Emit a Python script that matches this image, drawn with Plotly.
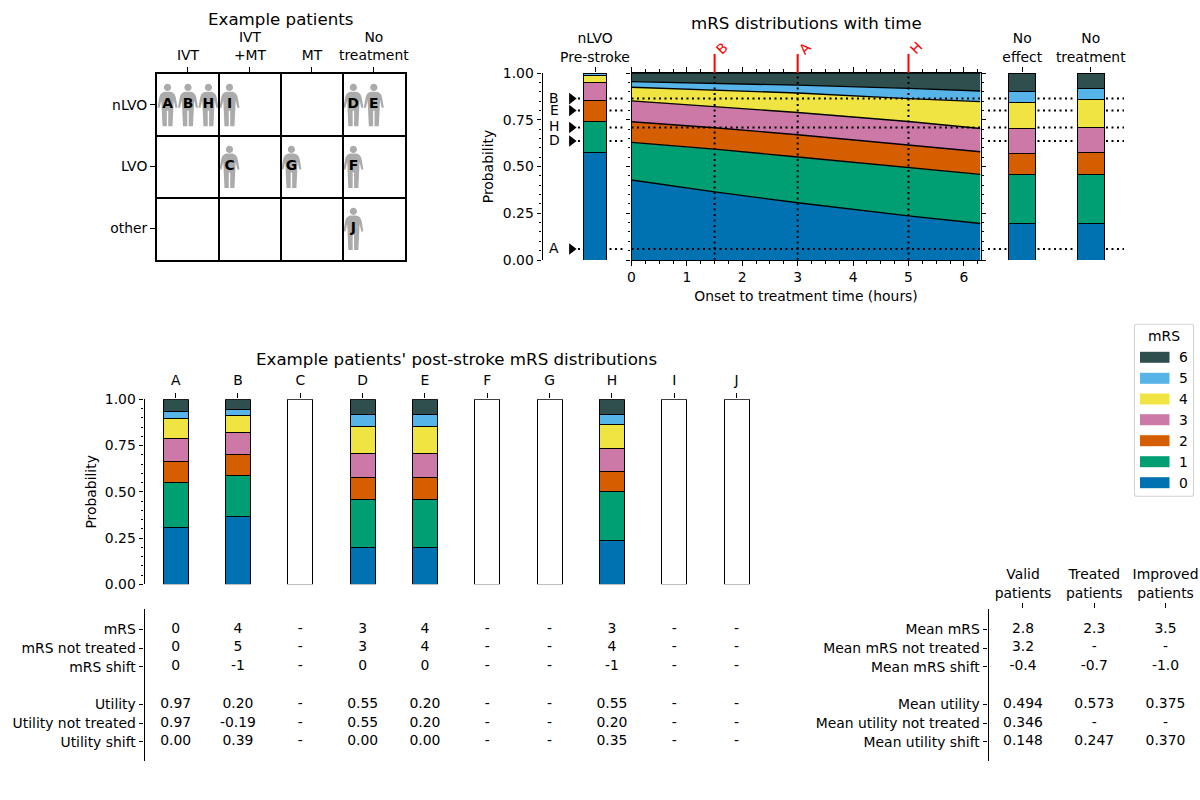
import numpy as np
import plotly.graph_objects as go

W, H = 1200, 800
FONT = "DejaVu Sans"
FS = 13.9
TITLE_FS = 16.67

# ---------- data ----------
mrs_levels = [0, 1, 2, 3, 4, 5, 6]
mrs_colours = ["#0072B2", "#009E73", "#D55E00", "#CC79A7", "#F0E442", "#56B4E9", "#2F4F4F"]

treatment_cols = ["IVT", "IVT<br>+MT", "MT", "No<br>treatment"]
occlusion_rows = ["nLVO", "LVO", "other"]
grid_letters = ["A", "B", "H", "I", "D", "E", "C", "G", "F", "J"]
grid_x = [0.17, 0.5, 0.83, 1.17, 3.17, 3.5, 1.17, 2.17, 3.17, 3.17]
grid_y = [0.5, 0.5, 0.5, 0.5, 0.5, 0.5, 1.5, 1.5, 1.5, 2.5]

# cumulative upper bounds of mRS bands
prestroke_cum = [0.577, 0.742, 0.851, 0.950, 0.989, 1.0, 1.0]
no_effect_cum = [0.195, 0.456, 0.572, 0.702, 0.844, 0.902, 1.0]
no_treat_cum = [0.195, 0.456, 0.577, 0.707, 0.856, 0.916, 1.0]

times = [0, 1.5, 3, 5, 6.3]
band_0 = [0.428, 0.364, 0.306, 0.236, 0.195]
band_1 = [0.629, 0.593, 0.551, 0.494, 0.458]
band_2 = [0.739, 0.707, 0.670, 0.616, 0.579]
band_3 = [0.851, 0.820, 0.789, 0.741, 0.703]
band_4 = [0.924, 0.909, 0.893, 0.863, 0.847]
band_5 = [0.954, 0.945, 0.935, 0.918, 0.904]
band_6 = [1.0, 1.0, 1.0, 1.0, 1.0]

pointer_names = ["A", "D", "H", "E", "B"]
pointer_probs = [0.059, 0.636, 0.709, 0.799, 0.863]
treated_pointers = ["A", "H", "B"]
treat_names = ["B", "A", "H"]
treat_times = [1.5, 3.0, 5.0]

patients = ["A", "B", "C", "D", "E", "F", "G", "H", "I", "J"]
patient_cum = {
    "A": [0.306, 0.550, 0.663, 0.787, 0.895, 0.933, 1.0],
    "B": [0.366, 0.589, 0.701, 0.820, 0.914, 0.944, 1.0],
    "D": [0.200, 0.459, 0.577, 0.706, 0.852, 0.917, 1.0],
    "E": [0.200, 0.459, 0.577, 0.706, 0.852, 0.917, 1.0],
    "H": [0.239, 0.499, 0.612, 0.735, 0.865, 0.919, 1.0],
}

table_rows = ["mRS", "mRS not treated", "mRS shift", "", "Utility", "Utility not treated", "Utility shift"]
row_mrs = ["0", "4", "-", "3", "4", "-", "-", "3", "-", "-"]
row_mrs_nt = ["0", "5", "-", "3", "4", "-", "-", "4", "-", "-"]
row_mrs_shift = ["0", "-1", "-", "0", "0", "-", "-", "-1", "-", "-"]
row_util = ["0.97", "0.20", "-", "0.55", "0.20", "-", "-", "0.55", "-", "-"]
row_util_nt = ["0.97", "-0.19", "-", "0.55", "0.20", "-", "-", "0.20", "-", "-"]
row_util_shift = ["0.00", "0.39", "-", "0.00", "0.00", "-", "-", "0.35", "-", "-"]

summary_cols = ["Valid<br>patients", "Treated<br>patients", "Improved<br>patients"]
summary_rows = ["Mean mRS", "Mean mRS not treated", "Mean mRS shift", "",
                "Mean utility", "Mean utility not treated", "Mean utility shift"]
sum_mrs = ["2.8", "2.3", "3.5"]
sum_mrs_nt = ["3.2", "-", "-"]
sum_mrs_shift = ["-0.4", "-0.7", "-1.0"]
sum_util = ["0.494", "0.573", "0.375"]
sum_util_nt = ["0.346", "-", "-"]
sum_util_shift = ["0.148", "0.247", "0.370"]


# ---------- helpers ----------
def xd(a, b):
    return [a / W, b / W]


def yd(top, bot):
    return [1 - bot / H, 1 - top / H]


def px(v):
    return v / W


def py(v):
    return 1 - v / H


font = dict(family=FONT, size=FS, color="black")
AX = dict(color="black", linecolor="black", linewidth=1.1, tickcolor="black", tickwidth=1.1, automargin=False,
          ticklen=4.9, ticks="outside", showgrid=False, zeroline=False, tickfont=font)
MINOR_Y = dict(ticks="outside", ticklen=2.8, tickwidth=1.1, tickcolor="black", dtick=0.05, tick0=0)
EDGE = dict(color="black", width=1)
CENTER = dict(xanchor="center", yanchor="middle", showarrow=False)

fig = go.Figure()


def stacked(xvals, cum_by_col, xa, ya, width):
    cum = np.array(cum_by_col)
    inc = np.diff(np.c_[np.zeros(len(cum)), cum], axis=1)
    for i, lv in enumerate(mrs_levels):
        fig.add_bar(x=xvals, y=inc[:, i], width=width, xaxis=xa, yaxis=ya, name=str(lv),
                    marker=dict(color=mrs_colours[i], line=EDGE), showlegend=False, hoverinfo="x+y+name")


# ---------- top-left: example patient grid ----------
fig.add_scatter(x=grid_x, y=grid_y, text=grid_letters, mode="text", xaxis="x", yaxis="y", showlegend=False,
                textposition="middle center", textfont=dict(family=FONT, size=FS, color="black", weight="bold"))

# ---------- prestroke bar ----------
stacked([0], [prestroke_cum], "x2", "y2", 0.78)
fig.add_scatter(x=[-0.78] * len(pointer_probs), y=pointer_probs, mode="markers", xaxis="x2", yaxis="y2",
                marker=dict(symbol="triangle-right", size=10, color="black"), showlegend=False,
                text=pointer_names, hoverinfo="text")

# ---------- main time bands ----------
bands = [band_0, band_1, band_2, band_3, band_4, band_5, band_6]
for i, band in enumerate(bands):
    fig.add_scatter(x=times, y=band, mode="lines", xaxis="x3", yaxis="y3", name=str(mrs_levels[i]),
                    line=dict(color="black", width=1.4), fill="tozeroy" if i == 0 else "tonexty",
                    fillcolor=mrs_colours[i], showlegend=False)

# ---------- right bars ----------
stacked([0, 1], [no_effect_cum, no_treat_cum], "x4", "y4", 0.4)

# ---------- patient bars ----------
with_data = [i for i, p in enumerate(patients) if p in patient_cum]
without_data = [i for i, p in enumerate(patients) if p not in patient_cum]
stacked(with_data, [patient_cum[patients[i]] for i in with_data], "x5", "y5", 0.4)
fig.add_bar(x=without_data, y=[1.0] * len(without_data), width=0.4, xaxis="x5", yaxis="y5",
            marker=dict(color="white", line=EDGE), showlegend=False, name="no data")

# ---------- tables ----------
for row, vals in zip([0, 1, 2, 4, 5, 6], [row_mrs, row_mrs_nt, row_mrs_shift, row_util, row_util_nt, row_util_shift]):
    fig.add_scatter(x=list(range(10)), y=[row] * 10, text=vals, mode="text", xaxis="x6", yaxis="y6",
                    textfont=font, textposition="middle center", showlegend=False)
for row, vals in zip([0, 1, 2, 4, 5, 6], [sum_mrs, sum_mrs_nt, sum_mrs_shift, sum_util, sum_util_nt, sum_util_shift]):
    fig.add_scatter(x=[0, 1, 2], y=[row] * 3, text=vals, mode="text", xaxis="x7", yaxis="y7",
                    textfont=font, textposition="middle center", showlegend=False)

# ---------- shapes ----------
shapes = []
annos = []

# person icons (pixel offsets around each patient's grid position)
PERSON = ("M-3,13 L3,13 Q7.5,12 8.3,7 L10,-3 L7.9,-3 L6.2,4.5 L5,-21.5 L0.7,-21.5 L0.7,-6 L-0.7,-6 L-0.7,-21.5 "
          "L-5,-21.5 L-6.2,4.5 L-7.9,-3 L-10,-3 L-8.3,7 Q-7.5,12 -3,13 Z "
          "M0,20.8 C2,20.8 3.6,19.2 3.6,17.2 C3.6,15.2 2,13.6 0,13.6 C-2,13.6 -3.6,15.2 -3.6,17.2 "
          "C-3.6,19.2 -2,20.8 0,20.8 Z")
for gx, gy in zip(grid_x, grid_y):
    shapes.append(dict(type="path", xref="x", yref="y", xsizemode="pixel", ysizemode="pixel",
                       xanchor=gx, yanchor=gy, path=PERSON, fillcolor="#ababab",
                       line=dict(width=0), layer="below"))

# dotted patient guide lines
DOT = "2px,3.5px"
outer_segments = [(578, 583), (609.5, 625), (988, 1007), (1037.5, 1073), (1106, 1124)]
for name, p in zip(pointer_names, pointer_probs):
    for a, b in outer_segments:
        shapes.append(dict(type="line", xref="paper", yref="y2", x0=px(a), x1=px(b), y0=p, y1=p,
                           line=dict(color="black", width=2, dash=DOT)))
    if name in treated_pointers:
        shapes.append(dict(type="line", xref="x3", yref="y3", x0=0, x1=6.3, y0=p, y1=p,
                           line=dict(color="black", width=2, dash=DOT)))

for name, t in zip(treat_names, treat_times):
    shapes.append(dict(type="line", xref="x3", yref="y3", x0=t, x1=t, y0=0, y1=1,
                       line=dict(color="black", width=2, dash=DOT)))
    shapes.append(dict(type="line", xref="x3", yref="y3 domain", x0=t, x1=t, y0=1, y1=1.102,
                       line=dict(color="red", width=2)))
    annos.append(dict(x=t, y=1, xref="x3", yref="y3 domain", text=name, textangle=-45,
                      xshift=7.5, yshift=25, font=dict(family=FONT, size=FS, color="red"), **CENTER))

for name, p in zip(pointer_names, pointer_probs):
    annos.append(dict(x=px(554), y=p, xref="paper", yref="y2", text=name, yshift=1, font=font, **CENTER))

# legend (drawn by hand to keep matplotlib-style swatches)
shapes.append(dict(type="path", xref="paper", yref="paper", fillcolor="white",
                   line=dict(color="#d4d4d4", width=1.1), layer="below",
                   path=(f"M{px(1136.5)},{py(324.3)} L{px(1191.5)},{py(324.3)} Q{px(1193.5)},{py(324.3)} {px(1193.5)},{py(326.5)} "
                         f"L{px(1193.5)},{py(494)} Q{px(1193.5)},{py(496.3)} {px(1191.5)},{py(496.3)} "
                         f"L{px(1136.5)},{py(496.3)} Q{px(1134.5)},{py(496.3)} {px(1134.5)},{py(494)} "
                         f"L{px(1134.5)},{py(326.5)} Q{px(1134.5)},{py(324.3)} {px(1136.5)},{py(324.3)} Z")))
annos.append(dict(x=px(1163.5), y=py(336), xref="paper", yref="paper", text="mRS", font=font, **CENTER))
legend_y = [482.7, 461.7, 440.7, 419.7, 399, 378.3, 357.3]
for lv, col, ly in zip(mrs_levels, mrs_colours, legend_y):
    shapes.append(dict(type="rect", xref="paper", yref="paper", x0=px(1140), x1=px(1169.5),
                       y0=py(ly - 5.5), y1=py(ly + 5.5), fillcolor=col, line=dict(width=0)))
    annos.append(dict(x=px(1183.5), y=py(ly), xref="paper", yref="paper", text=str(lv), font=font, **CENTER))

# titles
for text, cx, cy in [("Example patients", 281, 19),
                     ("mRS distributions with time", 806, 23.5),
                     ("Example patients' post-stroke mRS distributions", 456, 360)]:
    annos.append(dict(x=px(cx), y=py(cy), xref="paper", yref="paper", text=text,
                      font=dict(family=FONT, size=TITLE_FS, color="black"), **CENTER))

# ---------- layout ----------
prob_ticks = dict(tickmode="linear", tick0=0, dtick=0.25, tickformat=".2f", range=[0, 1], minor=MINOR_Y)
t_rows = [0, 1, 2, 4, 5, 6]
row_range = [7.02, -1.08]

layout = dict(
    width=W, height=H, margin=dict(l=0, r=0, t=0, b=0, pad=0), autosize=False,
    plot_bgcolor="rgba(0,0,0,0)", paper_bgcolor="white", barmode="stack", hovermode="closest",
    font=font, showlegend=False, shapes=shapes, annotations=annos,
    # grid
    xaxis=dict(AX, domain=xd(157, 404.8), range=[0, 4], side="top", anchor="y", showline=True, linewidth=2, mirror=True,
               tickvals=[0.5, 1.5, 2.5, 3.5], ticktext=treatment_cols, ticklabelstandoff=1,
               minor=dict(tickvals=[1, 2, 3], showgrid=True, gridcolor="black", gridwidth=2, ticks="")),
    yaxis=dict(AX, domain=yd(73.7, 259.5), range=[3, 0], anchor="x", showline=True, linewidth=2, mirror=True,
               tickvals=[0.5, 1.5, 2.5], ticktext=occlusion_rows,
               minor=dict(tickvals=[1, 2], showgrid=True, gridcolor="black", gridwidth=2, ticks="")),
    # prestroke
    xaxis2=dict(AX, domain=xd(542.5, 625), range=[-1.75, 1.0], side="top", anchor="y2", showline=False,
                tickvals=[0], ticktext=["nLVO<br>Pre-stroke"]),
    yaxis2=dict(AX, domain=yd(73, 260), anchor="x2", showline=True,
                title=dict(text="Probability", font=font, standoff=5), **prob_ticks),
    # main
    xaxis3=dict(AX, domain=xd(631.5, 980.5), range=[0, 6.3], side="bottom", anchor="y3", showline=True, mirror="ticks",
                tickmode="linear", tick0=0, dtick=1, ticklabelstandoff=-1,
                minor=dict(ticks="outside", ticklen=2.8, tickwidth=1.1, tickcolor="black", dtick=0.25, tick0=0),
                title=dict(text="Onset to treatment time (hours)", font=font, standoff=7)),
    yaxis3=dict(AX, domain=yd(73, 260), anchor="x3", showline=True, mirror="ticks", showticklabels=False, **prob_ticks),
    # right bars
    xaxis4=dict(AX, domain=xd(990, 1125), range=[-0.47, 1.5], side="top", anchor="y4", showline=False,
                tickvals=[0, 1], ticktext=["No<br>effect", "No<br>treatment"]),
    yaxis4=dict(domain=yd(73, 260), range=[0, 1], anchor="x4", visible=False),
    # patients
    xaxis5=dict(AX, domain=xd(144.5, 767.7), range=[-0.5, 9.5], side="top", anchor="y5", showline=False,
                tickvals=list(range(10)), ticktext=patients, ticklabelstandoff=3),
    yaxis5=dict(AX, domain=yd(399.3, 584.3), anchor="x5", showline=True,
                title=dict(text="Probability", font=font, standoff=4), **prob_ticks),
    # left table
    xaxis6=dict(domain=xd(144.5, 767.7), range=[-0.5, 9.5], anchor="y6", visible=False),
    yaxis6=dict(AX, domain=yd(609, 761), range=row_range, anchor="x6", showline=True,
                tickvals=t_rows, ticktext=[table_rows[i] for i in t_rows]),
    # right table
    xaxis7=dict(AX, domain=xd(988.5, 1200), range=[-0.484, 2.484], side="top", anchor="y7", showline=False,
                tickvals=[0, 1, 2], ticktext=summary_cols),
    yaxis7=dict(AX, domain=yd(609, 761), range=row_range, anchor="x7", showline=True,
                tickvals=t_rows, ticktext=[summary_rows[i] for i in t_rows]),
)
fig.update_layout(**layout)
fig.write_html("out.html", post_script="document.body.style.margin='0';", config={"displayModeBar": False})
